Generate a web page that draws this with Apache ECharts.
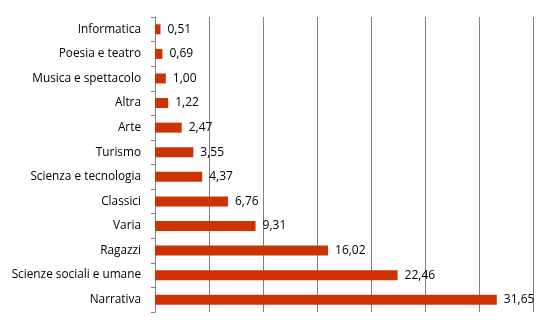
<!DOCTYPE html>
<html>
<head>
<meta charset="utf-8">
<script src="https://cdn.jsdelivr.net/npm/echarts@6/dist/echarts.min.js"></script>
<style>html,body{margin:0;padding:0;background:#fff}#chart{width:550px;height:330px}</style>
</head>
<body>
<div id="chart"></div>
<script>
// Genres, listed bottom to top as the category axis draws them
const categories = ['Narrativa', 'Scienze sociali e umane', 'Ragazzi', 'Varia', 'Classici',
  'Scienza e tecnologia', 'Turismo', 'Arte', 'Altra', 'Musica e spettacolo', 'Poesia e teatro', 'Informatica'];
const shares = [31.65, 22.46, 16.02, 9.31, 6.76, 4.37, 3.55, 2.47, 1.22, 1.00, 0.69, 0.51];

const chart = echarts.init(document.getElementById('chart'));
chart.setOption({
  animation: false,
  grid: { left: 155, right: 17, top: 17, bottom: 18, containLabel: false },
  xAxis: {
    type: 'value', min: 0, max: 35, interval: 5,
    axisLabel: { show: false },
    axisLine: { show: false },
    axisTick: { show: false },
    splitLine: { show: true, lineStyle: { color: '#808080', width: 1 } }
  },
  yAxis: {
    type: 'category', data: categories,
    axisLine: { show: true, lineStyle: { color: '#808080', width: 1 } },
    axisTick: { show: true, length: 4, lineStyle: { color: '#808080' } },
    axisLabel: { margin: 14, color: '#000', fontFamily: 'Open Sans', fontSize: 11.8 }
  },
  series: [{
    type: 'bar', data: shares, barWidth: 10,
    itemStyle: { color: '#cc3300' },
    label: {
      show: true, position: 'right', distance: 7,
      color: '#000', fontFamily: 'Open Sans', fontSize: 12,
      formatter: p => p.value.toFixed(2).replace('.', ',')
    }
  }]
});
</script>
</body>
</html>
